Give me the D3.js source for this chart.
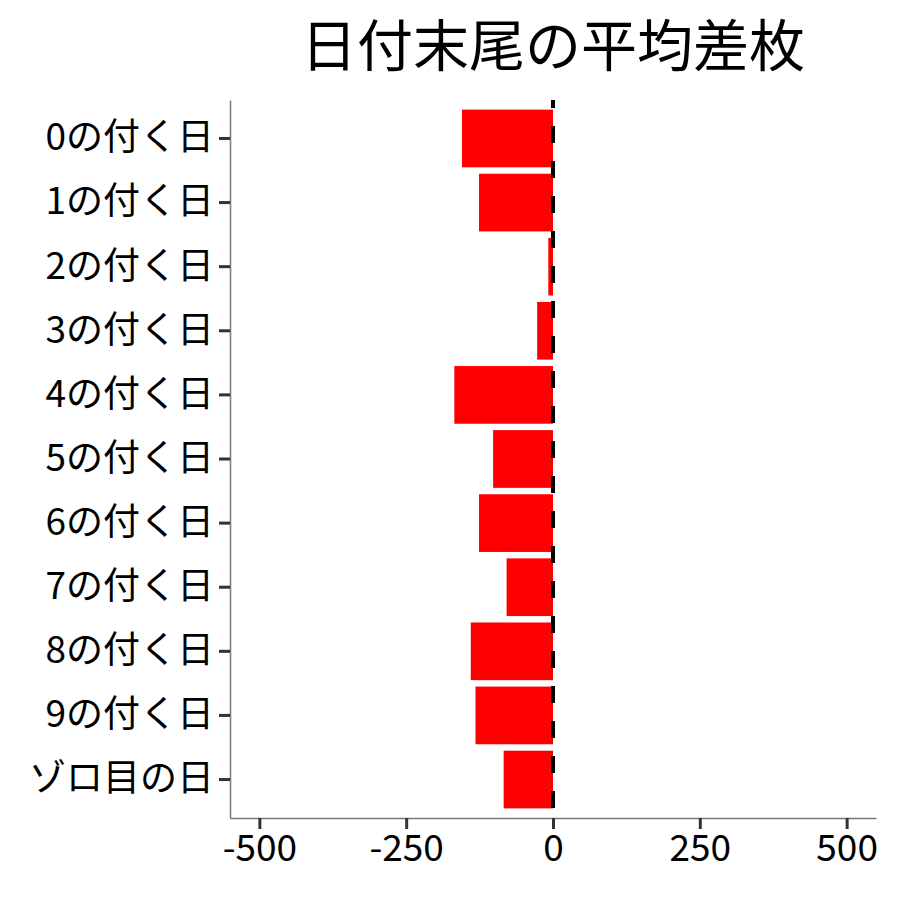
<!DOCTYPE html>
<html>
<head>
    <meta charset="UTF-8">
    <title>日付末尾の平均差枚</title>
    <script src="https://d3js.org/d3.v7.min.js"></script>
    <style>
        body { margin: 0; background: #fff; }
        svg text { font-family: "Noto Sans CJK JP", "Noto Sans", sans-serif; fill: #000; }
    </style>
</head>
<body>
    <svg id="chart"></svg>
    <script>
        // データ
        const categories = ['0の付く日', '1の付く日', '2の付く日', '3の付く日', '4の付く日',
            '5の付く日', '6の付く日', '7の付く日', '8の付く日', '9の付く日', 'ゾロ目の日'];
        const avgDiff = [-155, -126, -8, -27, -168, -102, -126, -79, -140, -132, -84];
        const xTicks = [-500, -250, 0, 250, 500];
        const title = '日付末尾の平均差枚';

        const W = 900, H = 900;
        const margin = { top: 100, right: 24, bottom: 82, left: 230 };
        const width = W - margin.left - margin.right;
        const height = H - margin.top - margin.bottom;

        const svg = d3.select('#chart').attr('width', W).attr('height', H);
        const g = svg.append('g').attr('transform', `translate(${margin.left},${margin.top})`);

        const x = d3.scaleLinear().domain([-550, 550]).range([0, width]);
        // ggplot風の離散スケール（両端0.6の余白）
        const y = d3.scaleBand().domain(categories)
            .range([0, height]).paddingInner(0.1).paddingOuter(0.15);

        // バー
        g.selectAll('.bar')
            .data(categories.map((c, i) => ({ cat: c, v: avgDiff[i] })))
            .enter().append('rect')
            .attr('class', 'bar')
            .attr('x', d => x(Math.min(0, d.v)))
            .attr('width', d => Math.abs(x(d.v) - x(0)))
            .attr('y', d => y(d.cat))
            .attr('height', y.bandwidth())
            .attr('fill', '#ff0000');

        // 0の点線
        g.append('line')
            .attr('x1', x(0)).attr('x2', x(0))
            .attr('y1', 0).attr('y2', height)
            .attr('stroke', '#000')
            .attr('stroke-width', 4)
            .attr('stroke-dasharray', '17,18')
            .attr('stroke-dashoffset', 9);

        // x軸
        const xAxis = g.append('g')
            .attr('transform', `translate(0,${height})`)
            .call(d3.axisBottom(x).tickValues(xTicks).tickFormat(d => String(d))
                .tickSize(11).tickSizeOuter(0).tickPadding(6));
        xAxis.select('.domain').attr('stroke', '#777').attr('stroke-width', 1.5);
        xAxis.selectAll('.tick line').attr('stroke', '#333').attr('stroke-width', 3);
        xAxis.selectAll('.tick text').style('font-size', '37px');

        // y軸
        const yAxis = g.append('g')
            .call(d3.axisLeft(y).tickSize(11).tickSizeOuter(0).tickPadding(5));
        yAxis.select('.domain').attr('stroke', '#777').attr('stroke-width', 1.5);
        yAxis.selectAll('.tick line').attr('stroke', '#333').attr('stroke-width', 3);
        yAxis.selectAll('.tick text').style('font-size', '37px');

        // タイトル
        svg.append('text')
            .attr('x', margin.left + x(0))
            .attr('y', 66)
            .attr('text-anchor', 'middle')
            .style('font-size', '56px')
            .text(title);
    </script>
</body>
</html>
